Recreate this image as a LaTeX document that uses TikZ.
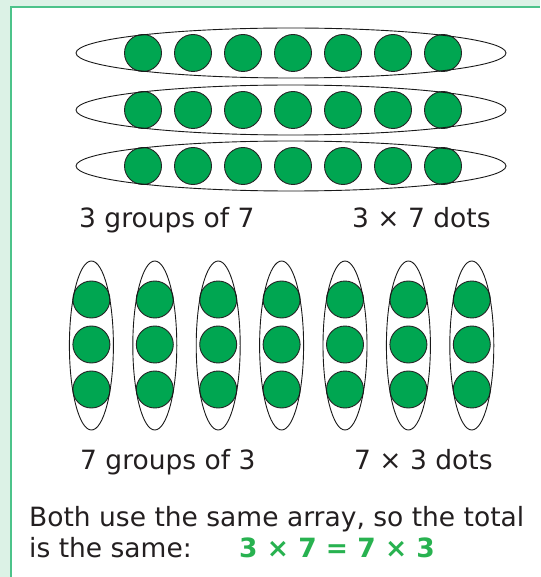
\documentclass[tikz,border=0pt]{standalone}
\usepackage{fontspec}
\setmainfont{DejaVu Sans}
\usetikzlibrary{shapes.geometric}
\definecolor{panelgreen}{RGB}{220,242,230}
\definecolor{framegreen}{RGB}{76,195,138}
\definecolor{dotgreen}{RGB}{0,166,81}
\definecolor{eqgreen}{RGB}{40,178,80}
\definecolor{textgray}{RGB}{35,31,32}

\begin{document}
\begin{tikzpicture}[x=1pt,y=-1pt,
  dot/.style={circle,draw=black!85,fill=dotgreen,
              minimum size=37pt,inner sep=0pt,line width=0.9pt},
  rowloop/.style={ellipse,draw=black!90,minimum width=430pt,
                  minimum height=50pt,inner sep=0pt,line width=0.9pt},
  colloop/.style={ellipse,draw=black!90,minimum width=44pt,
                  minimum height=169pt,inner sep=0pt,line width=0.9pt},
  lbl/.style={anchor=base west,inner sep=0pt,text=textgray,
              font=\fontsize{26.5}{31}\selectfont},
]
\useasboundingbox (0,0) rectangle (540,577);

%% Panel and frame
\fill[panelgreen] (0,0) rectangle (540,577);
\fill[white] (11,7) rectangle (540,577);
\draw[framegreen,line width=1.6pt] (11,577) -- (11,7) -- (540,7);

%% Three groups of seven
\foreach \r/\y in {1/53,2/110,3/166}{
  \foreach \c in {1,...,7}
    \node[dot] (top-\r-\c) at ({93+50*\c},\y) {};
  \node[rowloop] (row-\r) at (291,\y) {};
}
\node[lbl] (lbl-rows)  at (79,227)  {3 groups of 7};
\node[lbl] (lbl-rdots) at (352,227) {3 × 7 dots};

%% Seven groups of three
\foreach \c in {1,...,7}{
  \foreach \r in {1,2,3}
    \node[dot] (bot-\c-\r) at ({28+63.4*\c},{254.5+45*\r}) {};
  \node[colloop] (col-\c) at ({28+63.4*\c},345.5) {};
}
\node[lbl] (lbl-cols)  at (80,469.5)  {7 groups of 3};
\node[lbl] (lbl-cdots) at (354,469.5) {7 × 3 dots};

% Conclusion
\node[lbl] (concl-a) at (29,526) {Both use the same array, so the total};
\node[lbl] (concl-b) at (29,557) {is the same:};
\node[lbl,text=eqgreen,font=\fontsize{26.5}{31}\selectfont\bfseries]
  (concl-eq) at (239,557) {3 × 7 = 7 × 3};
\end{tikzpicture}
\end{document}
